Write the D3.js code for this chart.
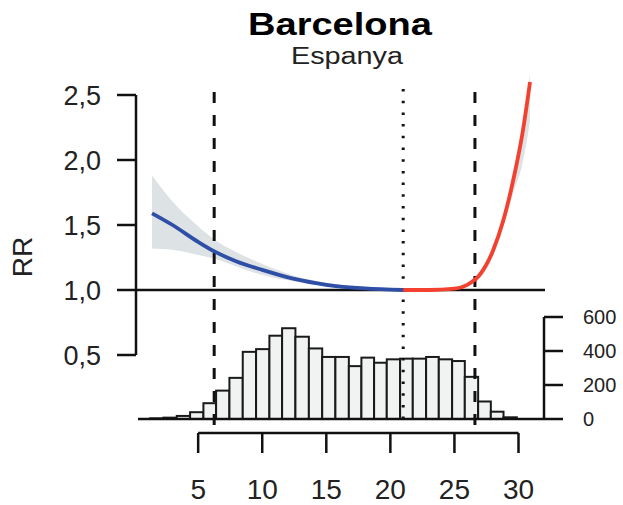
<!DOCTYPE html>
<html>
<head>
<meta charset="utf-8">
<script src="https://cdn.jsdelivr.net/npm/d3@7"></script>
<style>
  body { margin: 0; background: #fff; }
  svg { display: block; font-family: "Liberation Sans", Arial, sans-serif; }
</style>
</head>
<body>
<svg id="chart" width="623" height="505"></svg>
<script>
// Barcelona: temperature vs relative risk (RR), with temperature histogram
const coldTemp = [1.4, 3, 5, 6.3, 8, 10, 12.5, 15, 18, 21];
const coldRR   = [1.59, 1.50, 1.37, 1.295, 1.22, 1.155, 1.085, 1.04, 1.012, 1.0];
const coldLow  = [1.32, 1.31, 1.27, 1.24, 1.18, 1.115, 1.065, 1.03, 1.008, 1.0];
const coldHigh = [1.88, 1.68, 1.49, 1.385, 1.29, 1.20, 1.11, 1.055, 1.018, 1.0];

const hotTemp = [21, 23, 25, 26, 27, 28, 28.8, 29.6, 30.3, 30.9];
const hotRR   = [1.0, 1.0, 1.01, 1.04, 1.12, 1.30, 1.53, 1.85, 2.2, 2.6];
const hotLow  = [1.0, 1.0, 1.0, 1.025, 1.09, 1.26, 1.48, 1.75, 1.97, 2.3];
const hotHigh = [1.0, 1.0, 1.02, 1.055, 1.15, 1.34, 1.58, 1.92, 2.27, 2.66];

// histogram of daily temperatures
const binEdges = [1.25, 2.29, 3.33, 4.37, 5.41, 6.40, 7.44, 8.48, 9.52, 10.56, 11.55, 12.59,
                  13.64, 14.68, 15.71, 16.76, 17.74, 18.73, 19.72, 20.76, 21.75, 22.79, 23.78,
                  24.82, 25.81, 26.85, 27.84, 28.83, 29.87];
const binCounts = [4, 8, 18, 40, 93, 167, 242, 395, 411, 490, 534, 484, 415, 365, 365, 311,
                   361, 331, 351, 355, 355, 365, 351, 341, 248, 103, 43, 10];

const xTicks = [5, 10, 15, 20, 25, 30];
const rrTicks = [0.5, 1.0, 1.5, 2.0, 2.5];
const countTicks = [0, 200, 400, 600];

const mmt = 21.0;           // minimum mortality temperature (dotted)
const percentiles = [6.25, 26.6]; // dashed lines

const svg = d3.select("#chart");
const fmt = d3.format(".1f");
const comma = v => fmt(v).replace(".", ",");

const x = d3.scaleLinear().domain([0, 30]).range([134.1, 518.5]);
const y = d3.scaleLinear().domain([0.5, 2.5]).range([355, 95]);
const yc = d3.scaleLinear().domain([0, 600]).range([419, 317]);

// Title
svg.append("text")
    .attr("x", 340).attr("y", 35)
    .attr("text-anchor", "middle")
    .style("font-weight", "bold").style("font-size", "32px")
    .attr("textLength", 184).attr("lengthAdjust", "spacingAndGlyphs")
    .text("Barcelona");
svg.append("text")
    .attr("x", 347).attr("y", 64)
    .attr("text-anchor", "middle")
    .style("font-size", "23px").style("fill", "#222")
    .attr("textLength", 112).attr("lengthAdjust", "spacingAndGlyphs")
    .text("Espanya");

// Histogram
const bins = binCounts.map((n, i) => ({x0: binEdges[i], x1: binEdges[i + 1], n}));
svg.append("g").selectAll("rect")
    .data(bins)
    .join("rect")
    .attr("x", d => x(d.x0))
    .attr("y", d => yc(d.n))
    .attr("width", d => x(d.x1) - x(d.x0))
    .attr("height", d => yc(0) - yc(d.n))
    .attr("fill", "#f1f3f3")
    .attr("stroke", "#1a1a1a")
    .attr("stroke-width", 2);

svg.append("line")
    .attr("x1", 138).attr("x2", 544)
    .attr("y1", yc(0)).attr("y2", yc(0))
    .attr("stroke", "#111").attr("stroke-width", 2.5);

// right axis (counts)
const rAxis = svg.append("g").attr("transform", "translate(544,0)");
rAxis.append("line")
    .attr("y1", yc(0)).attr("y2", yc(600))
    .attr("stroke", "#111").attr("stroke-width", 2.5);
rAxis.selectAll(".tk").data(countTicks).join("line")
    .attr("x1", 0).attr("x2", 19)
    .attr("y1", d => yc(d)).attr("y2", d => yc(d))
    .attr("stroke", "#111").attr("stroke-width", 2.5);
rAxis.selectAll("text").data(countTicks).join("text")
    .attr("x", 39).attr("y", d => yc(d))
    .attr("dy", "0.36em")
    .style("font-size", "20px").style("fill", "#222")
    .text(d => d);

// Confidence bands
const band = d3.area()
    .x(d => x(d[0])).y0(d => y(d[1])).y1(d => y(d[2]))
    .curve(d3.curveMonotoneX);
svg.append("path")
    .datum(coldTemp.map((t, i) => [t, coldLow[i], coldHigh[i]]))
    .attr("d", band).attr("fill", "#dde2e4");
svg.append("path")
    .datum(hotTemp.map((t, i) => [t, hotLow[i], hotHigh[i]]))
    .attr("d", band).attr("fill", "#dde2e4");

// Reference line at RR = 1
svg.append("line")
    .attr("x1", 136).attr("x2", 545)
    .attr("y1", y(1)).attr("y2", y(1))
    .attr("stroke", "#111").attr("stroke-width", 2.5);

// vertical lines
svg.selectAll(".pct").data(percentiles).join("line")
    .attr("x1", d => x(d)).attr("x2", d => x(d))
    .attr("y1", 92).attr("y2", 433)
    .attr("stroke", "#111").attr("stroke-width", 3)
    .attr("stroke-dasharray", "11,12");
svg.append("line")
    .attr("x1", x(mmt)).attr("x2", x(mmt))
    .attr("y1", 89).attr("y2", 424)
    .attr("stroke", "#111").attr("stroke-width", 3)
    .attr("stroke-dasharray", "2.5,9.2");

// RR curves
const line = d3.line().x(d => x(d[0])).y(d => y(d[1])).curve(d3.curveMonotoneX);
svg.append("path")
    .datum(coldTemp.map((t, i) => [t, coldRR[i]]))
    .attr("d", line).attr("fill", "none")
    .attr("stroke", "#2f4fa6").attr("stroke-width", 3.8);
svg.append("path")
    .datum(hotTemp.map((t, i) => [t, hotRR[i]]))
    .attr("d", line).attr("fill", "none")
    .attr("stroke", "#f4402e").attr("stroke-width", 3.8);

// left axis (RR)
const lAxis = svg.append("g").attr("transform", "translate(136,0)");
lAxis.append("line")
    .attr("y1", y(0.5)).attr("y2", y(2.5))
    .attr("stroke", "#111").attr("stroke-width", 2.5);
lAxis.selectAll(".tk").data(rrTicks).join("line")
    .attr("x1", -19).attr("x2", 0)
    .attr("y1", d => y(d)).attr("y2", d => y(d))
    .attr("stroke", "#111").attr("stroke-width", 2.5);
lAxis.selectAll("text").data(rrTicks).join("text")
    .attr("x", -35).attr("y", d => y(d))
    .attr("dy", "0.36em")
    .attr("text-anchor", "end")
    .style("font-size", "27px").style("fill", "#222")
    .text(d => comma(d));

svg.append("text")
    .attr("transform", "translate(32,257) rotate(-90)")
    .attr("text-anchor", "middle")
    .style("font-size", "28px").style("fill", "#222")
    .text("RR");

// bottom axis (temperature)
const bAxis = svg.append("g").attr("transform", "translate(0,433)");
bAxis.append("line")
    .attr("x1", x(5)).attr("x2", x(30))
    .attr("stroke", "#111").attr("stroke-width", 2.5);
bAxis.selectAll(".tk").data(xTicks).join("line")
    .attr("x1", d => x(d)).attr("x2", d => x(d))
    .attr("y1", 0).attr("y2", 20)
    .attr("stroke", "#111").attr("stroke-width", 2.5);
bAxis.selectAll("text").data(xTicks).join("text")
    .attr("x", d => x(d)).attr("y", 66)
    .attr("text-anchor", "middle")
    .style("font-size", "28px").style("fill", "#222")
    .text(d => d);
</script>
</body>
</html>
